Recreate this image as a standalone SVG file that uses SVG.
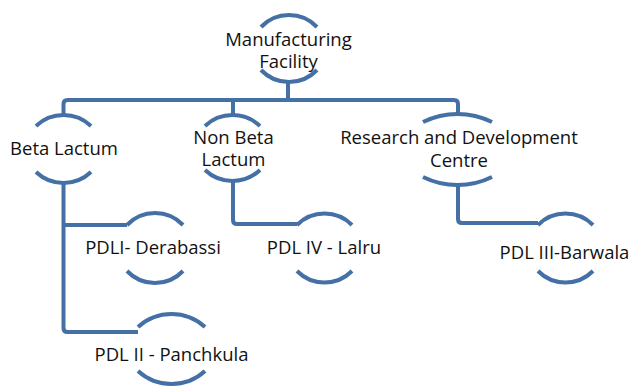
<svg xmlns="http://www.w3.org/2000/svg" width="632" height="392" viewBox="0 0 632 392">
<style>
.arc{fill:none;stroke:#4470a6;stroke-width:4}
.conn{fill:none;stroke:#4470a6;stroke-width:4;stroke-linejoin:round}
text{font-family:"Open Sans","DejaVu Sans",sans-serif;font-size:18.5px;fill:#111;text-anchor:middle}
</style>
<rect width="632" height="392" fill="#fff"/>
<g id="connectors">
<path class="conn" d="M288,82 V100"/>
<path class="conn" d="M63.5,115 V104 Q63.5,100 67.5,100 H454 Q458,100 458,104 V114"/>
<path class="conn" d="M233,100 V115"/>
<path class="conn" d="M63.5,182 V328 Q63.5,332 67.5,332 H138"/>
<path class="conn" d="M63.5,225 H127"/>
<path class="conn" d="M233,181 V220 Q233,224 237,224 H297"/>
<path class="conn" d="M458,185 V219 Q458,223 462,223 H538"/>
</g>
<g id="manufacturing">
<path class="arc" d="M261,27 A38.7,38.7 0 0 1 317,27"/>
<path class="arc" d="M261,70 A38.7,38.7 0 0 0 317,70"/>
<text x="288.5" y="45.5">Manufacturing</text>
<text x="288.5" y="67.5">Facility</text>
</g>
<g id="beta">
<path class="arc" d="M36,126 A40,40 0 0 1 91,126"/>
<path class="arc" d="M36,172 A40,40 0 0 0 91,172"/>
<text x="64" y="155">Beta Lactum</text>
</g>
<g id="nonbeta">
<path class="arc" d="M205,126 A40,40 0 0 1 260,126"/>
<path class="arc" d="M205,170 A40,40 0 0 0 260,170"/>
<text x="233.5" y="144">Non Beta</text>
<text x="233.5" y="166">Lactum</text>
</g>
<g id="rnd">
<path class="arc" d="M423,122 A78,78 0 0 1 492,122"/>
<path class="arc" d="M423,177 A78,78 0 0 0 492,177"/>
<text x="459" y="144">Research and Development</text>
<text x="459" y="167">Centre</text>
</g>
<g id="pdl1">
<path class="arc" d="M127,225 A38.7,38.7 0 0 1 183,225"/>
<path class="arc" d="M127,271 A38.7,38.7 0 0 0 183,271"/>
<text x="153" y="254">PDLI- Derabassi</text>
</g>
<g id="pdl4">
<path class="arc" d="M297,225 A38.7,38.7 0 0 1 352,225"/>
<path class="arc" d="M297,271 A38.7,38.7 0 0 0 352,271"/>
<text x="324" y="254">PDL IV - Lalru</text>
</g>
<g id="pdl3">
<path class="arc" d="M538,225 A38.7,38.7 0 0 1 593,225"/>
<path class="arc" d="M538,271 A38.7,38.7 0 0 0 593,271"/>
<text x="564.5" y="259">PDL III-Barwala</text>
</g>
<g id="pdl2">
<path class="arc" d="M138,327 A49.7,49.7 0 0 1 205,327"/>
<path class="arc" d="M138,371 A49.7,49.7 0 0 0 205,371"/>
<text x="171.5" y="361">PDL II - Panchkula</text>
</g>
</svg>
